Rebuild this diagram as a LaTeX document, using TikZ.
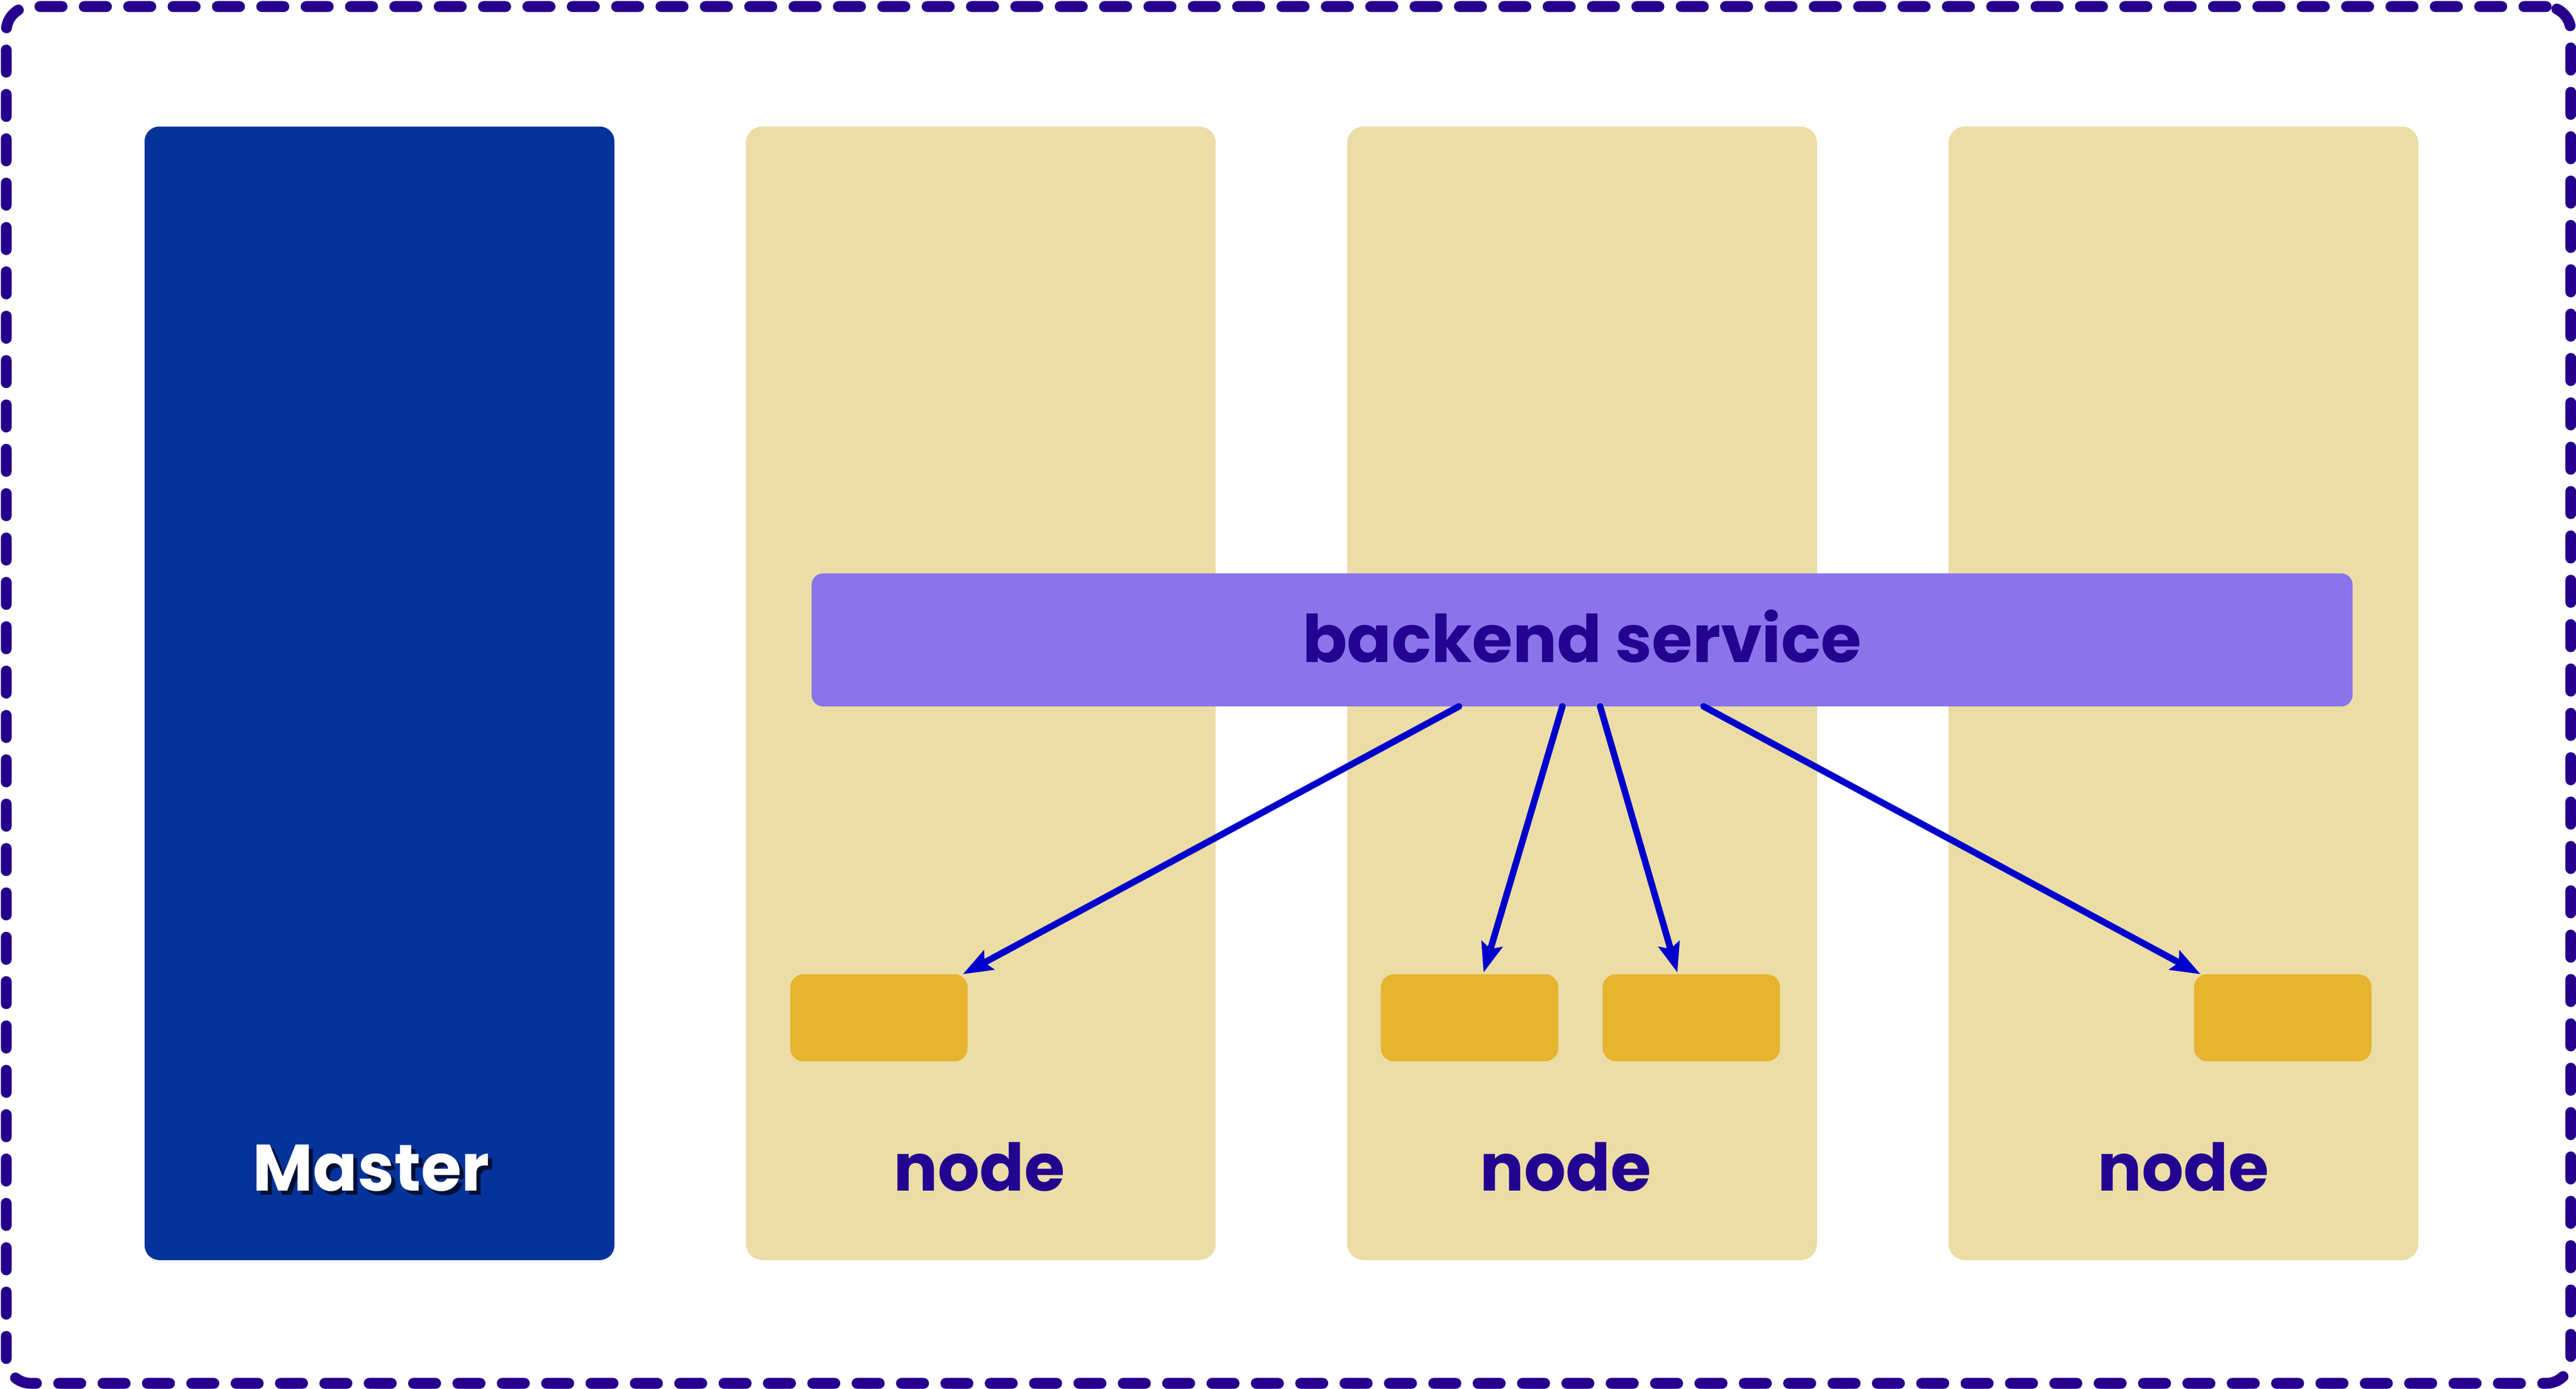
\documentclass[tikz,border=0pt]{standalone}
\usepackage{fontspec}
\setmainfont{Poppins}
\usetikzlibrary{arrows.meta,calc}
\definecolor{framecol}{RGB}{38,0,140}
\definecolor{mastercol}{RGB}{5,51,154}
\definecolor{colbeige}{RGB}{236,221,166}
\definecolor{barcol}{RGB}{138,116,234}
\definecolor{podcol}{RGB}{231,180,47}
\definecolor{arrowcol}{RGB}{0,0,204}
\definecolor{txtcol}{RGB}{34,4,145}
\definecolor{shadowcol}{RGB}{0,16,53}
\begin{document}
\begin{tikzpicture}[x=1pt,y=-1pt,
  box/.style={inner sep=0pt,outer sep=0pt,draw=none},
  masterbox/.style={box,fill=mastercol,rounded corners=9pt,minimum width=286pt,minimum height=690pt},
  colbox/.style={box,fill=colbeige,rounded corners=10pt,minimum width=286pt,minimum height=690pt},
  barbox/.style={box,fill=barcol,rounded corners=7pt,minimum width=938pt,minimum height=81pt,
     font=\fontsize{40}{44}\selectfont\bfseries,text=txtcol,text height=27pt,text depth=0pt},
  podbox/.style={box,fill=podcol,rounded corners=8pt,minimum width=108pt,minimum height=53pt},
  lbl/.style={inner sep=0pt,anchor=base,font=\fontsize{40}{44}\selectfont\bfseries,text=txtcol},
  conn/.style={draw=arrowcol,line width=4pt,line cap=round,-{Stealth[length=18pt,width=13pt,inset=3pt]}},
  framebox/.style={inner sep=0pt,outer sep=0pt,draw=framecol,line width=6.6pt,line cap=round,
     dash pattern=on 13.5pt off 13.5pt,rounded corners=15pt,minimum width=1561pt,minimum height=838pt}
]
\useasboundingbox (0,0) rectangle (1568,845.2);
\node[framebox] (frame) at (784.3,423) {};
\node[masterbox] (master) at (231,422) {};
\node[colbox] (c1) at (597,422) {};
\node[colbox] (c2) at (963,422) {};
\node[colbox] (c3) at (1329,422) {};
\node[barbox] (bar) at (963,389.5) {backend service};
\node[podbox] (p1) at (535,619.5) {};
\node[podbox] (p2) at (894.5,619.5) {};
\node[podbox] (p3) at (1029.5,619.5) {};
\node[podbox] (p4) at (1389.5,619.5) {};
\node[lbl,text=shadowcol] (mastershadow) at (228.5,727.5) {Master};
\node[lbl,text=white] (mastertxt) at (226,725) {Master};
\node[lbl] (n1) at (596,725) {node};
\node[lbl] (n2) at (953,725) {node};
\node[lbl] (n3) at (1329,725) {node};
\coordinate (s1) at ($(bar.south)+(-75,0)$);
\coordinate (s2) at ($(bar.south)+(-12,0)$);
\coordinate (s3) at ($(bar.south)+(11,0)$);
\coordinate (s4) at ($(bar.south)+(74,0)$);
\draw[conn] (s1) -- ($(p1.north east)+(-3,0)$);
\draw[conn] (s2) -- ($(p2.north)+(8.5,-1)$);
\draw[conn] (s3) -- ($(p3.north)+(-8.5,-1)$);
\draw[conn] (s4) -- ($(p4.north west)+(4,0)$);
\end{tikzpicture}
\end{document}
